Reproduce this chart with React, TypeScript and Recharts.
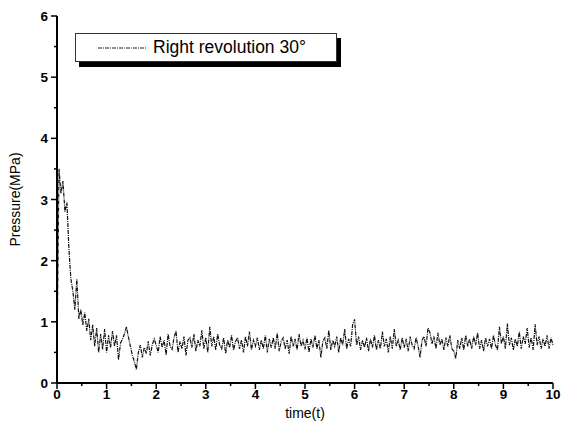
import { LineChart, Line, XAxis, YAxis } from "recharts"

// sampled every 0.04 s
const STEP = 0.04
const p0to2 = [
  0.4, 3.5, 3.1, 3.3, 2.8, 2.95, 2.2, 1.7, 1.5, 1.2,
  1.7, 1.05, 1.2, 0.95, 1.15, 0.85, 1.05, 0.7, 0.95, 0.6,
  0.9, 0.5, 0.8, 0.55, 0.88, 0.5, 0.78, 0.58, 0.85, 0.6,
  0.78, 0.38, 0.65, 0.72, 0.8, 0.92, 0.75, 0.6, 0.45, 0.35,
  0.22, 0.5, 0.62, 0.42, 0.58, 0.48, 0.68, 0.45, 0.62, 0.72,
]
const p2to4 = [
  0.62, 0.5, 0.76, 0.58, 0.7, 0.46, 0.8, 0.6, 0.55, 0.74,
  0.85, 0.5, 0.68, 0.56, 0.76, 0.45, 0.7, 0.74, 0.58, 0.8,
  0.52, 0.7, 0.6, 0.86, 0.56, 0.74, 0.5, 0.92, 0.6, 0.76,
  0.54, 0.8, 0.62, 0.56, 0.74, 0.48, 0.7, 0.58, 0.78, 0.54,
  0.68, 0.74, 0.56, 0.7, 0.5, 0.76, 0.6, 0.84, 0.54, 0.7,
]
const p4to6 = [
  0.6, 0.74, 0.54, 0.7, 0.56, 0.78, 0.5, 0.72, 0.58, 0.74,
  0.56, 0.82, 0.52, 0.68, 0.74, 0.56, 0.7, 0.48, 0.76, 0.6,
  0.72, 0.54, 0.8, 0.6, 0.7, 0.55, 0.74, 0.5, 0.72, 0.58,
  0.78, 0.56, 0.7, 0.42, 0.68, 0.74, 0.56, 0.86, 0.54, 0.7,
  0.6, 0.76, 0.5, 0.74, 0.62, 0.88, 0.56, 0.72, 0.6, 0.95,
]
const p6to8 = [
  1.04, 0.62, 0.76, 0.54, 0.7, 0.58, 0.74, 0.52, 0.72, 0.58,
  0.78, 0.54, 0.7, 0.56, 0.84, 0.6, 0.72, 0.5, 0.76, 0.56,
  0.88, 0.6, 0.7, 0.54, 0.74, 0.58, 0.72, 0.52, 0.76, 0.62,
  0.56, 0.74, 0.6, 0.42, 0.7, 0.76, 0.6, 0.9, 0.82, 0.64,
  0.76, 0.56, 0.82, 0.62, 0.72, 0.54, 0.74, 0.6, 0.78, 0.56,
]
const p8to10 = [
  0.52, 0.4, 0.7, 0.56, 0.74, 0.54, 0.78, 0.6, 0.72, 0.56,
  0.76, 0.62, 0.82, 0.56, 0.7, 0.52, 0.74, 0.6, 0.72, 0.56,
  0.78, 0.62, 0.54, 0.92, 0.64, 0.76, 0.56, 0.97, 0.62, 0.74,
  0.54, 0.72, 0.6, 0.84, 0.56, 0.76, 0.64, 0.9, 0.58, 0.74,
  0.54, 0.96, 0.62, 0.76, 0.56, 0.72, 0.6, 0.78, 0.56, 0.74,
  0.62,
]

const xTicks = [0, 0.5, 1, 1.5, 2, 2.5, 3, 3.5, 4, 4.5, 5, 5.5, 6, 6.5, 7, 7.5, 8, 8.5, 9, 9.5, 10]
const yTicks = [0, 0.5, 1, 1.5, 2, 2.5, 3, 3.5, 4, 4.5, 5, 5.5, 6]

const pressure = [...p0to2, ...p2to4, ...p4to6, ...p6to8, ...p8to10]
const data = pressure.map((p, i) => ({ t: +(i * STEP).toFixed(2), p }))

const font = "Arial, 'Liberation Sans', sans-serif"

const XTick = (props: any) => {
  const { x, y, payload } = props
  const major = Number.isInteger(payload.value)
  return (
    <g>
      <line x1={x} x2={x} y1={y} y2={y + (major ? 6 : 3)} stroke="#000" strokeWidth={1.5} />
      {major && (
        <text x={x} y={y + 16} textAnchor="middle" fontFamily={font} fontWeight="bold" fontSize={13.5} fill="#000">
          {payload.value}
        </text>
      )}
    </g>
  )
}

const YTick = (props: any) => {
  const { x, y, payload } = props
  const major = Number.isInteger(payload.value)
  return (
    <g>
      <line x1={x - (major ? 6 : 3)} x2={x} y1={y} y2={y} stroke="#000" strokeWidth={1.5} />
      {major && (
        <text x={x - 9} y={y + 5} textAnchor="end" fontFamily={font} fontWeight="bold" fontSize={13.5} fill="#000">
          {payload.value}
        </text>
      )}
    </g>
  )
}

export default function App() {
  return (
    <div style={{ position: "relative", width: 562, height: 436, background: "#fff" }}>
      <style>{"body{margin:0}"}</style>
      <LineChart width={562} height={436} data={data} margin={{ top: 16, right: 9, bottom: 0, left: 0 }} style={{ overflow: "visible" }}>
        <XAxis
          dataKey="t"
          type="number"
          domain={[0, 10]}
          ticks={xTicks}
          interval={0}
          tickSize={0}
          tickMargin={0}
          tickLine={false}
          tick={<XTick />}
          height={53}
          axisLine={{ stroke: "#000", strokeWidth: 2 }}
          label={{ value: "time(t)", position: "insideBottom", offset: 18, style: { fontFamily: font, fontSize: 14, fill: "#000" } }}
        />
        <XAxis xAxisId="top" orientation="top" type="number" domain={[0, 10]} height={0} tick={false} tickLine={false} axisLine={{ stroke: "#000", strokeWidth: 1.5 }} />
        <YAxis
          type="number"
          domain={[0, 6]}
          ticks={yTicks}
          interval={0}
          tickSize={0}
          tickMargin={0}
          tickLine={false}
          tick={<YTick />}
          width={57}
          axisLine={{ stroke: "#000", strokeWidth: 2 }}
          label={{ value: "Pressure(MPa)", angle: -90, position: "insideLeft", offset: 15, style: { fontFamily: font, fontSize: 14, fill: "#000", textAnchor: "middle" } }}
        />
        <YAxis yAxisId="right" orientation="right" domain={[0, 6]} width={0} tick={false} tickLine={false} axisLine={{ stroke: "#000", strokeWidth: 1.5 }} />
        <Line
          type="linear"
          dataKey="p"
          stroke="#111"
          strokeWidth={1.2}
          strokeDasharray="4 1 1 1"
          dot={false}
          isAnimationActive={false}
        />
      </LineChart>
      <div
        style={{
          position: "absolute",
          left: 75,
          top: 33,
          width: 260,
          height: 27,
          border: "1px solid #333",
          background: "#fff",
          boxShadow: "4px 5px 0 #000",
          display: "flex",
          alignItems: "center",
          fontFamily: font,
          fontSize: 17.5,
          color: "#000",
          whiteSpace: "nowrap",
        }}
      >
        <svg width={48} height={10} style={{ marginLeft: 22, flexShrink: 0 }}>
          <line x1={0} x2={48} y1={5} y2={5} stroke="#222" strokeWidth={1} strokeDasharray="4 1 1 1" />
        </svg>
        <span style={{ marginLeft: 7 }}>Right revolution 30°</span>
      </div>
    </div>
  )
}
